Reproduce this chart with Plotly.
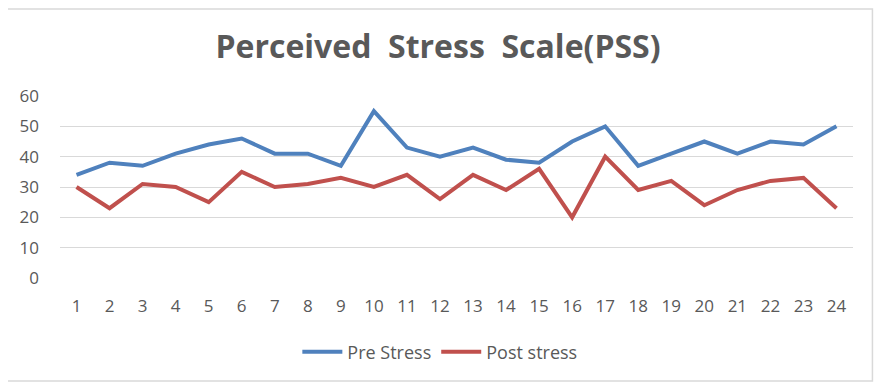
import plotly.graph_objects as go

categories = [str(i) for i in range(1, 25)]
pre_stress = [34, 38, 37, 41, 44, 46, 41, 41, 37, 55, 43, 40, 43, 39, 38, 45, 50, 37, 41, 45, 41, 45, 44, 50]
post_stress = [30, 23, 31, 30, 25, 35, 30, 31, 33, 30, 34, 26, 34, 29, 36, 20, 40, 29, 32, 24, 29, 32, 33, 23]
y_ticks = [0, 10, 20, 30, 40, 50, 60]

fig = go.Figure()
fig.add_trace(go.Scatter(x=categories, y=pre_stress, mode="lines", name="Pre Stress",
                         line=dict(color="#4F81BD", width=4)))
fig.add_trace(go.Scatter(x=categories, y=post_stress, mode="lines", name="Post stress",
                         line=dict(color="#C0504D", width=4)))

fig.update_layout(
    width=886, height=384,
    margin=dict(l=51.5, r=40.5, t=88, b=114, autoexpand=False),
    paper_bgcolor="white", plot_bgcolor="white",
    font=dict(family="Open Sans", size=17, color="#595959"),
    title=dict(text="<b>Perceived  Stress  Scale(PSS)</b>", x=430 / 886, xanchor="center",
               y=1 - 39 / 384, yanchor="middle", yref="container",
               font=dict(size=32, color="#595959", family="Open Sans")),
    xaxis=dict(type="category", range=[-0.5, 23.5], showgrid=False, showline=False,
               ticks="", tickfont=dict(size=17, color="#595959"), ticklabelstandoff=16),
    yaxis=dict(range=[0, 60], tickvals=y_ticks, showgrid=True, gridcolor="#D9D9D9",
               gridwidth=1, zeroline=False, showline=False, ticks="",
               tickfont=dict(size=17, color="#595959"), ticklabelstandoff=20),
    legend=dict(orientation="h", x=0.479, xanchor="center", y=-0.4066, yanchor="middle",
                font=dict(size=18, color="#595959"), itemwidth=40),
    showlegend=True,
    shapes=[dict(type="rect", xref="paper", yref="paper", x0=-0.0712, x1=1.0245,
                 y0=-0.566, y1=1.478, line=dict(color="#D9D9D9", width=1.5),
                 fillcolor="rgba(0,0,0,0)", layer="below")],
)

fig.write_html("out.html")
